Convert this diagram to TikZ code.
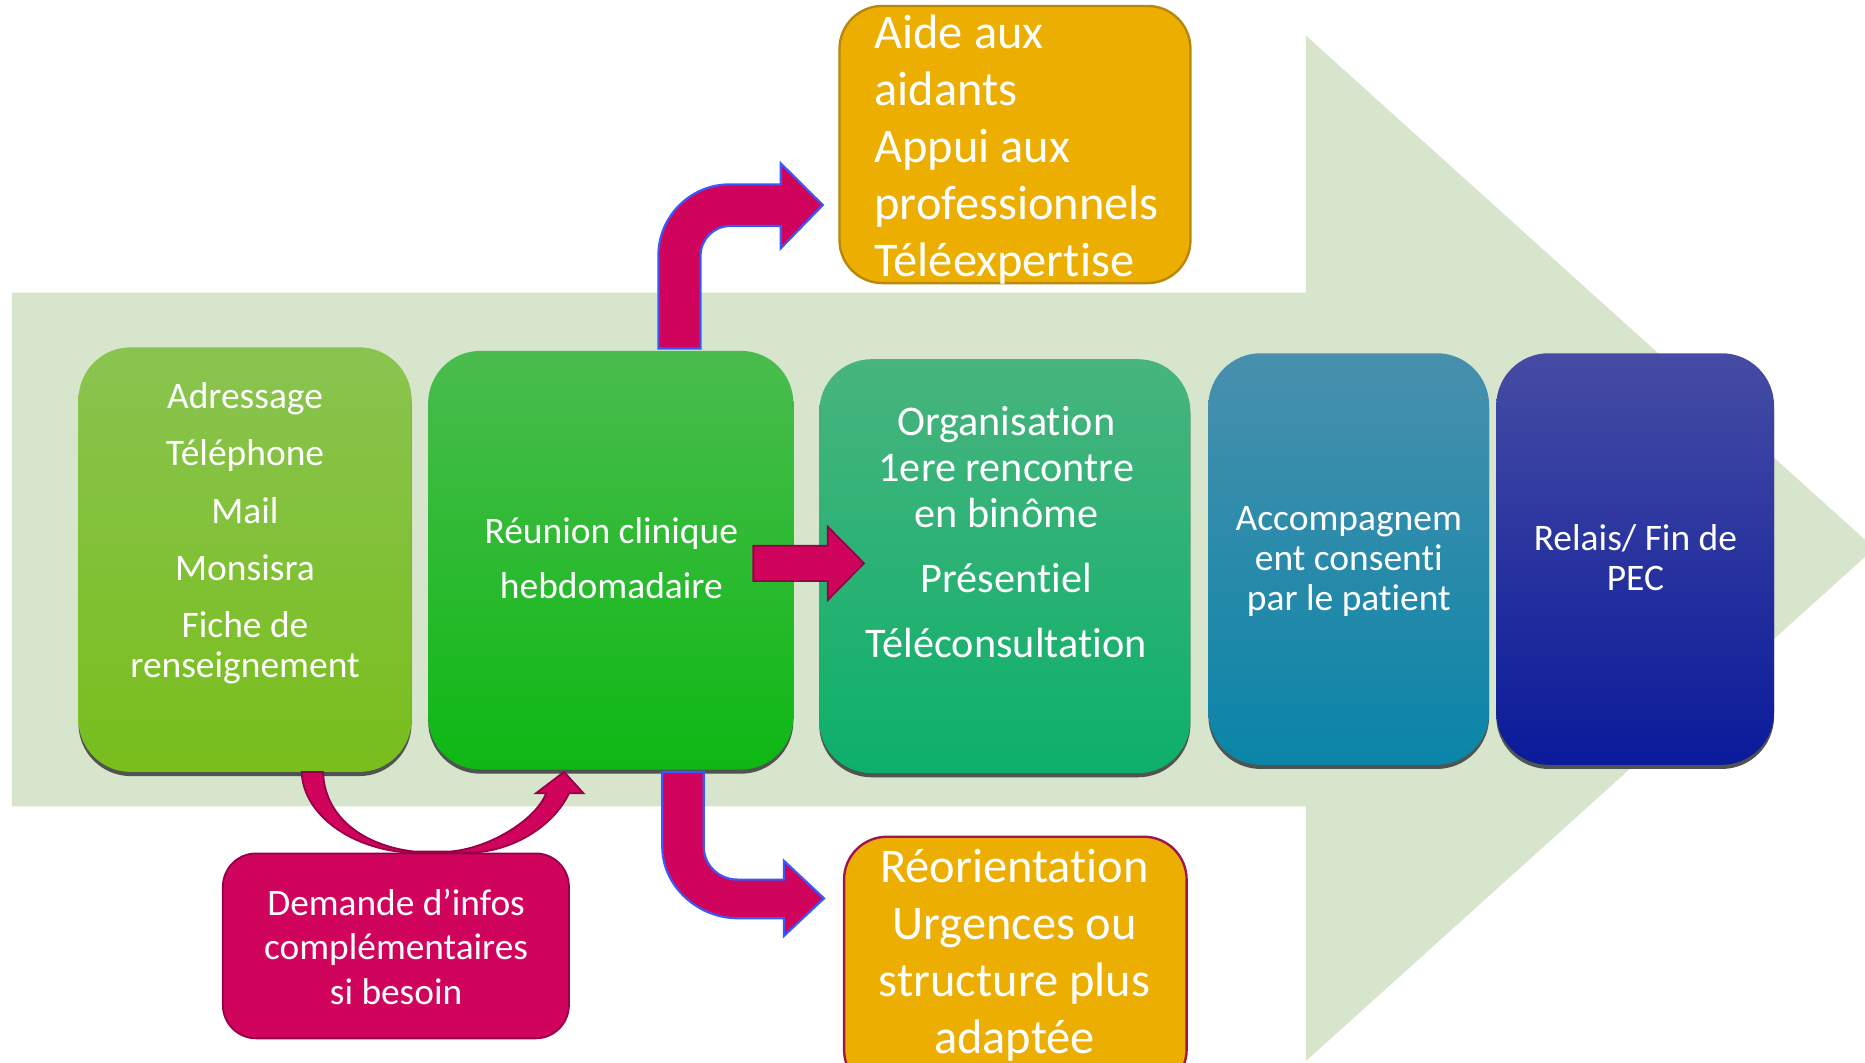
\documentclass[tikz,border=0pt]{standalone}
\usepackage{fontspec}
\setmainfont{Carlito}[RawFeature={-liga;-clig;-calt;-dlig;-hlig}]
\usetikzlibrary{shadows}
% empty kern: keeps "t" and "i" as separate glyphs
\newcommand{\sep}{\kern0pt}

\definecolor{bgarrow}{RGB}{215,229,205}
\definecolor{shadowgray}{RGB}{80,84,80}
\definecolor{bAtop}{RGB}{138,196,80}
\definecolor{bAbot}{RGB}{120,190,28}
\definecolor{bBtop}{RGB}{74,188,78}
\definecolor{bBbot}{RGB}{14,184,20}
\definecolor{bCtop}{RGB}{72,180,126}
\definecolor{bCbot}{RGB}{12,176,106}
\definecolor{bDtop}{RGB}{72,144,173}
\definecolor{bDbot}{RGB}{10,133,168}
\definecolor{bEtop}{RGB}{70,76,164}
\definecolor{bEbot}{RGB}{10,26,154}
\definecolor{ochre}{RGB}{236,174,0}
\definecolor{ochreline}{RGB}{185,135,10}
\definecolor{maroonline}{RGB}{160,20,80}
\definecolor{magenta}{RGB}{208,4,92}
\definecolor{magline}{RGB}{150,0,70}
\definecolor{blueline}{RGB}{55,90,255}

\begin{document}
\begin{tikzpicture}[x=1pt,y=-1pt,
  stage/.style={rounded corners=44pt, inner sep=0pt, draw=none,
    drop shadow={shadow xshift=0pt, shadow yshift=-3.5pt, fill=shadowgray, opacity=1}},
  ochrebox/.style={rounded corners=36pt, inner sep=0pt, fill=ochre, line width=2pt},
  txt/.style={text=white, inner sep=0pt},
  bentarrow/.style={fill=magenta, draw=blueline, line width=1.8pt, line join=miter},
  plainarrow/.style={fill=magenta, draw=magline, line width=1.5pt, line join=miter},
]
\path[use as bounding box] (0,0) rectangle (1568,893);
\clip (0,0) rectangle (1568,893);

% large background arrow
\fill[bgarrow] (10,246) -- (1098,246) -- (1098,30) -- (1576,461)
  -- (1098,892) -- (1098,678) -- (10,678) -- cycle;

% the five stages
\node[stage, top color=bAtop, bottom color=bAbot, minimum width=280pt, minimum height=357pt] (b1) at (206,470.5) {};
\node[stage, top color=bBtop, bottom color=bBbot, minimum width=307pt, minimum height=352pt] (b2) at (513.5,471) {};
\node[stage, top color=bCtop, bottom color=bCbot, minimum width=312pt, minimum height=348pt] (b3) at (844.8,476) {};
\node[stage, top color=bDtop, bottom color=bDbot, minimum width=236pt, minimum height=346pt] (b4) at (1134,470) {};
\node[stage, top color=bEtop, bottom color=bEbot, minimum width=233.5pt, minimum height=346pt] (b5) at (1374.75,470) {};

% side outcomes
\node[ochrebox, draw=ochreline, minimum width=295pt, minimum height=233pt] (top) at (853.35,121.5) {};
\node[ochrebox, draw=maroonline, minimum width=288pt, minimum height=215pt] (bot) at (853.65,811) {};

% bent arrow up to the upper box
\draw[bentarrow] (553.5,293) -- (553.5,215)
  .. controls (553.5,181.9) and (580.4,155) .. (613.5,155)
  -- (656.4,155) -- (656.4,137.3) -- (691.8,172.4) -- (656.4,208.8) -- (656.4,190)
  -- (614,190) .. controls (600.2,190) and (589,201.2) .. (589,215)
  -- (589,293) -- cycle;

% bent arrow down to the lower box
\draw[bentarrow] (556.8,649) -- (556.8,712)
  .. controls (556.8,745.1) and (586.9,772) .. (620,772)
  -- (659,772) -- (659,787) -- (692.8,755.3) -- (659,723.6) -- (659,739.5)
  -- (620,739.5) .. controls (604.4,739.5) and (591.7,727.2) .. (591.7,712)
  -- (591.7,649) -- cycle;

% straight arrow between the second and third stages
\draw[plainarrow] (633.4,458.8) -- (695.9,458.8) -- (695.9,442.8) -- (726.4,473.6)
  -- (695.9,504.5) -- (695.9,488.5) -- (633.4,488.5) -- cycle;

% curved arrow through the request box
\draw[plainarrow] (253.6,649) .. controls (255,685) and (295,714) .. (345,717)
  -- (392,717) .. controls (430,717) and (465,695) .. (478.4,667)
  -- (490.6,667) -- (474.2,649) -- (450.5,667) -- (459.2,667)
  .. controls (450,690) and (410,714) .. (377,716) -- (349,716)
  .. controls (310,712) and (273,690) .. (271.6,649) -- cycle;

\node[rounded corners=28pt, fill=magenta, draw=magline, line width=1.5pt,
  minimum width=291pt, minimum height=155.5pt, inner sep=0pt] (req) at (332.85,795.25) {};

% labels
\node[txt, align=center, font=\fontsize{31.5}{34}\selectfont] (t1) at (206,448.5)
  {Adressage\\[14pt]Téléphone\\[14pt]Mail\\[14pt]Monsisra\\[14pt]Fiche de\\renseignement};
\node[txt, align=center, font=\fontsize{31.5}{34}\selectfont] (t2) at (514,469)
  {Réunion clinique\\[12pt]hebdomadaire};
\node[txt, align=center, font=\fontsize{35.5}{38.5}\selectfont] (t3) at (846,447.5)
  {Organisat\sep ion\\1ere rencontre\\en binôme\\[16.5pt]Présent\sep iel\\[16.5pt]Téléconsultat\sep ion};
\node[txt, align=center, font=\fontsize{31.5}{33.5}\selectfont] (t4) at (1134,472)
  {Accompagnem\\ent consent\sep i\\par le pat\sep ient};
\node[txt, align=center, font=\fontsize{31.5}{34}\selectfont] (t5) at (1375,469)
  {Relais/ Fin de\\PEC};
\node[txt, align=left, anchor=west, font=\fontsize{40.7}{48}\selectfont] (t6) at (735,126)
  {Aide aux\\aidants\\Appui aux\\professionnels\\Téléexpertise};
\node[txt, align=center, font=\fontsize{40.7}{48}\selectfont] (t7) at (853,803)
  {Réorientat\sep ion\\Urgences ou\\structure plus\\adaptée};
\node[txt, align=center, font=\fontsize{31.4}{37.5}\selectfont] (t8) at (333,796)
  {Demande d’infos\\complémentaires\\si besoin};
\end{tikzpicture}
\end{document}
